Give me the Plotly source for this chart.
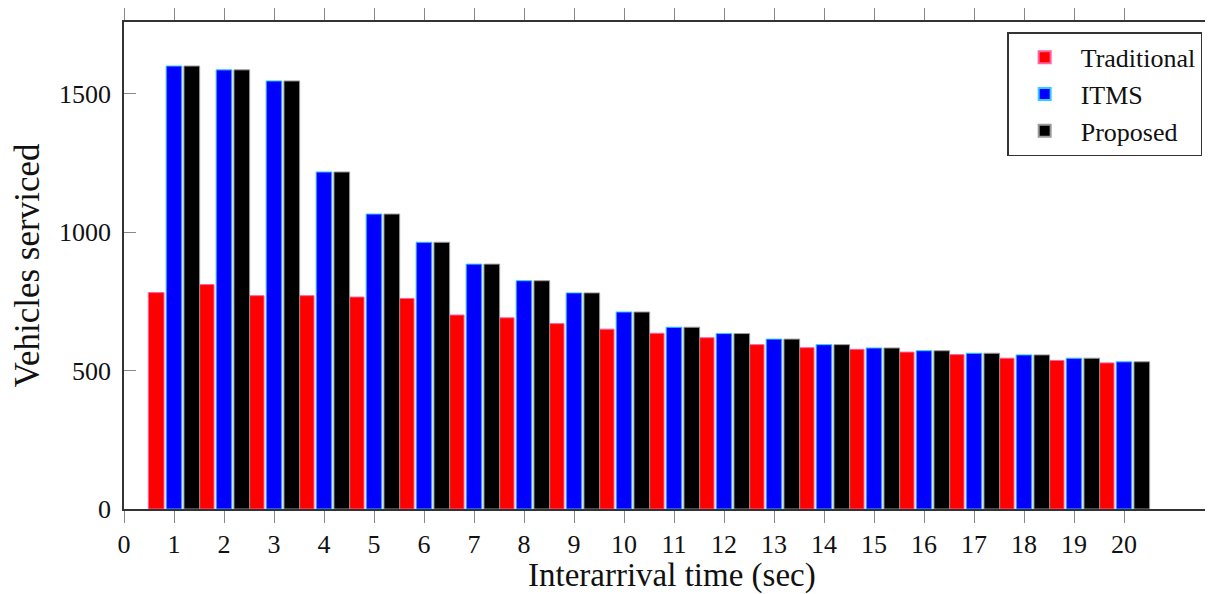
import plotly.graph_objects as go

interarrival = list(range(1, 21))
traditional = [782, 811, 771, 771, 766, 761, 701, 691, 670, 650,
               635, 619, 594, 583, 577, 567, 558, 545, 537, 528]
itms = [1601, 1587, 1547, 1218, 1066, 964, 885, 825, 781, 712,
        657, 634, 614, 594, 582, 572, 563, 557, 545, 532]
proposed = [1601, 1587, 1547, 1218, 1066, 964, 885, 825, 781, 712,
            657, 634, 614, 594, 582, 572, 563, 557, 545, 532]
x_ticks = list(range(0, 21))
y_ticks = [0, 500, 1000, 1500]
x_title = "Interarrival time (sec)"
y_title = "Vehicles serviced"

FONT = "Liberation Serif"
BW = 0.314

fig = go.Figure()
series = [
    ("Traditional", traditional, "#ff0000", "#ff5fa0", -0.513),
    ("ITMS", itms, "#0000ff", "#33ccff", -0.157),
    ("Proposed", proposed, "#000000", "#9a9a9a", 0.199),
]
for name, vals, fill, edge, off in series:
    fig.add_trace(go.Bar(
        x=interarrival, y=vals, name=name,
        width=BW, offset=off,
        marker=dict(color=fill, line=dict(color=edge, width=1)),
    ))

# page body has an 8px default margin, so the figure is sized to compensate
fig.update_layout(
    width=1205, height=586,
    margin=dict(l=116, r=0, t=14, b=85),
    barmode="overlay",
    plot_bgcolor="white", paper_bgcolor="white",
    font=dict(family=FONT, size=26, color="#111"),
    showlegend=True,
    legend=dict(
        x=0.811, y=0.979, xanchor="left", yanchor="top",
        bgcolor="white", bordercolor="#333", borderwidth=1.5,
        font=dict(family=FONT, size=26, color="#111"),
        itemsizing="constant", itemwidth=62, tracegroupgap=0,
    ),
    annotations=[dict(
        text=x_title, xref="paper", yref="paper", x=0.503, y=0,
        xanchor="center", yanchor="top", yshift=-46, showarrow=False,
        font=dict(family=FONT, size=33, color="#111"),
    )],
)
fig.update_xaxes(
    range=[0, 21.78], automargin=False,
    tickmode="array", tickvals=x_ticks, ticktext=[str(t) for t in x_ticks],
    ticks="outside", ticklen=12, tickwidth=1.2, tickcolor="#888",
    showline=True, linecolor="#333", linewidth=1.5, mirror="ticks",
    showgrid=False, zeroline=False,
    ticklabelstandoff=-1,
    tickfont=dict(family=FONT, size=26, color="#111"),
)
fig.update_yaxes(
    range=[0, 1760], automargin=False,
    tickmode="array", tickvals=y_ticks, ticktext=[str(t) for t in y_ticks],
    ticks="inside", ticklen=12, tickwidth=1.2, tickcolor="#888",
    showline=True, linecolor="#333", linewidth=1.5, mirror=False,
    showgrid=False, zeroline=False,
    ticklabelstandoff=6,
    tickfont=dict(family=FONT, size=26, color="#111"),
    title=dict(text=y_title, font=dict(family=FONT, size=35, color="#111"), standoff=14),
)

fig.write_html("out.html")
